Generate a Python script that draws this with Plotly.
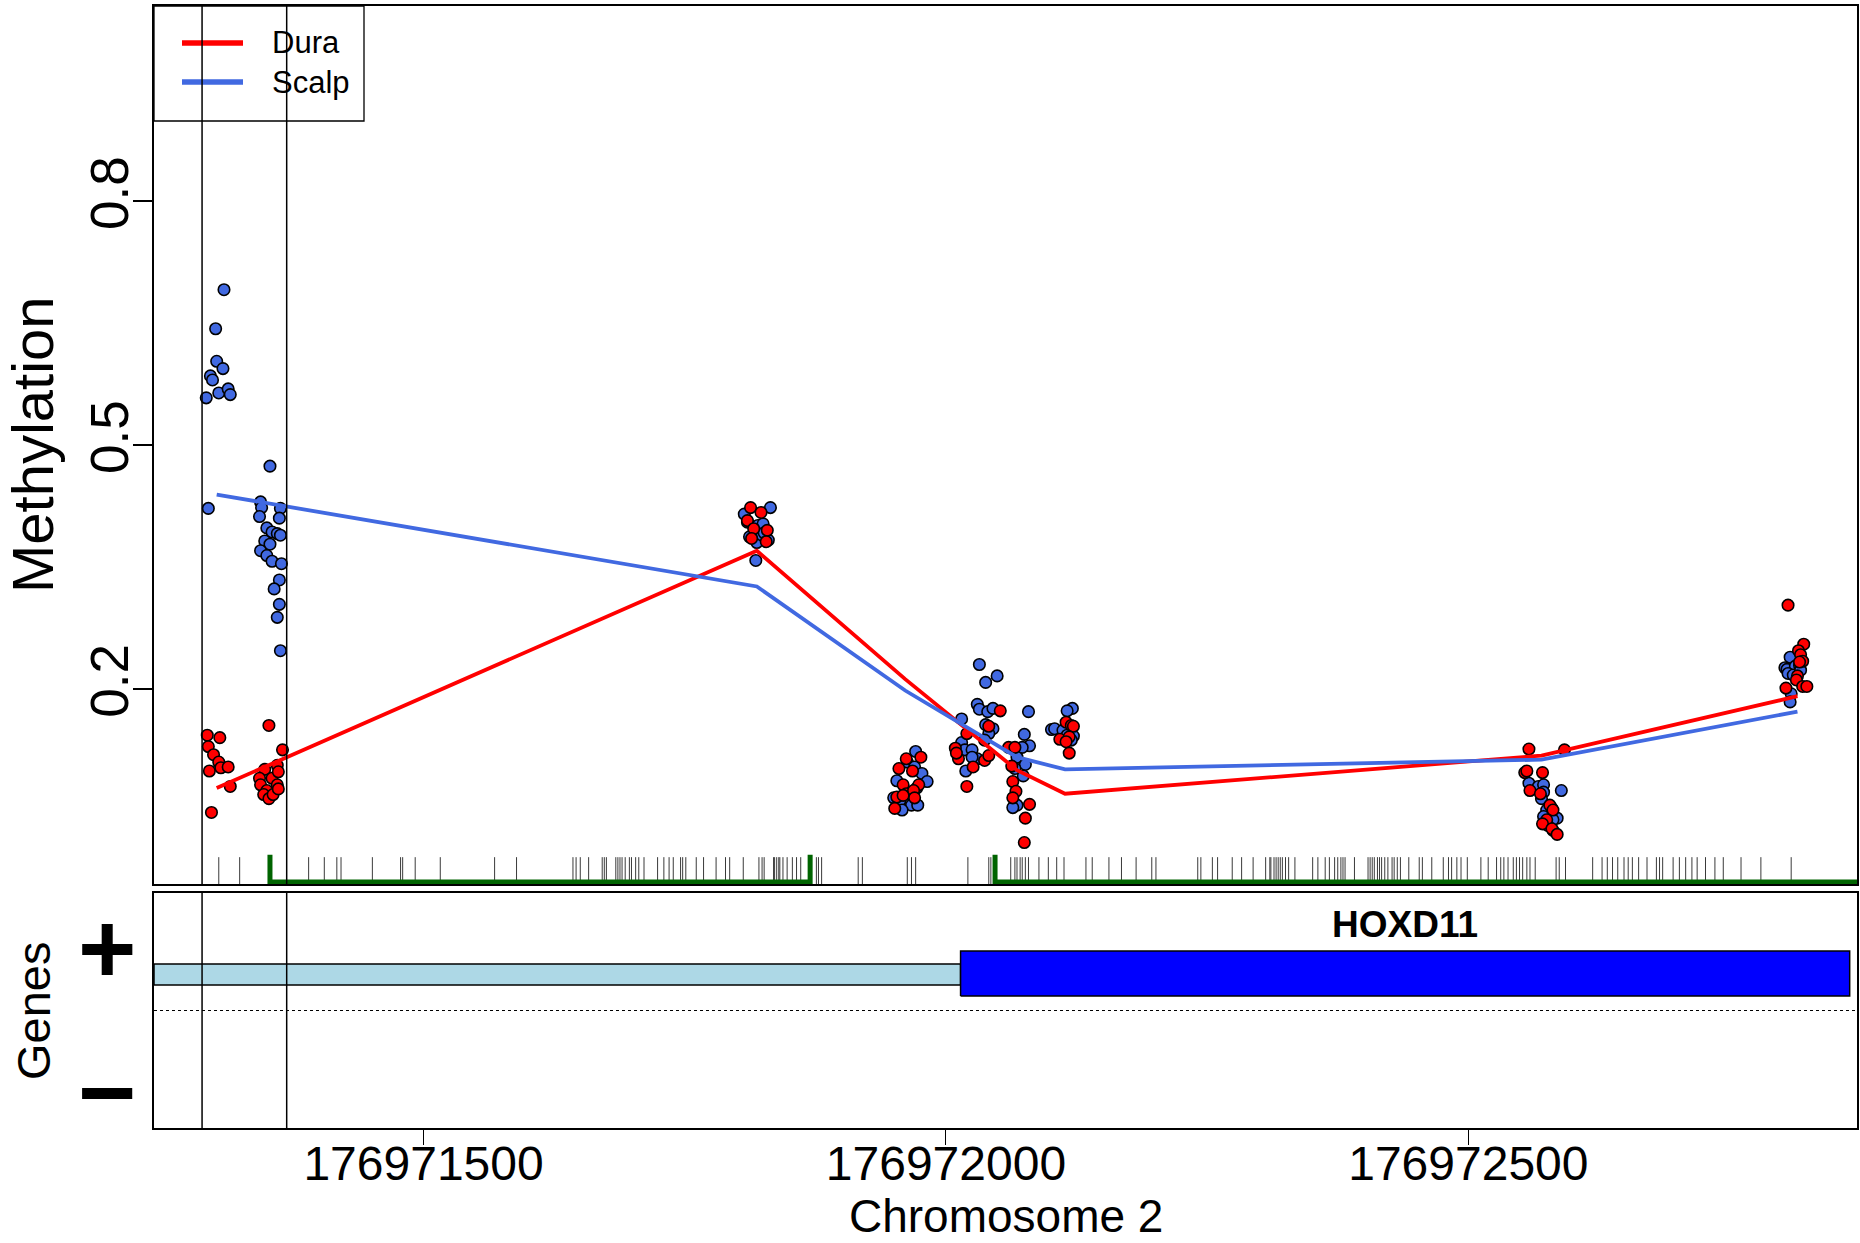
import plotly.graph_objects as go

BASE = 176971000
X_RANGE = [176971242, 176972872]

# ---- methylation points (position offset from BASE, value) ----
scalp_pos = [309, 301, 302, 308, 296, 298, 304, 313, 315, 292, 294,
             353, 344, 345, 363, 343, 362, 350, 355, 360, 363, 348, 353, 344, 350, 355, 364, 362, 357, 362, 360, 363,
             832, 807, 820, 825, 812, 819, 830, 824, 818, 810, 826,
             971, 963, 970, 977, 953, 982, 972, 964, 950, 956, 967, 973, 958,
             1032, 1038, 1049, 1030, 1032, 1040, 1045, 1015, 1041, 1045, 1015, 1018, 1025, 1030, 1025, 1019, 1041, 1037, 1038,
             1079, 1075, 1080, 1073, 1068, 1076, 1066, 1074, 1068, 1064,
             1121, 1116, 1101, 1104, 1112, 1116, 1122, 1120,
             1558, 1567, 1572, 1589, 1572, 1570, 1575, 1580, 1572, 1585, 1581, 1576,
             1808, 1803, 1805, 1813, 1817, 1806, 1811, 1818, 1809, 1808]
scalp_val = [0.691, 0.643, 0.603, 0.594, 0.585, 0.580, 0.564, 0.569, 0.562, 0.558, 0.422,
             0.474, 0.430, 0.423, 0.422, 0.412, 0.410, 0.398, 0.393, 0.391, 0.389, 0.382, 0.378, 0.370, 0.364, 0.357, 0.354, 0.334, 0.323, 0.304, 0.288, 0.247,
             0.423, 0.415, 0.401, 0.403, 0.387, 0.380, 0.383, 0.389, 0.358, 0.405, 0.392,
             0.123, 0.110, 0.104, 0.096, 0.087, 0.086, 0.078, 0.073, 0.066, 0.063, 0.057, 0.057, 0.051,
             0.230, 0.208, 0.216, 0.181, 0.175, 0.172, 0.176, 0.163, 0.153, 0.151, 0.134, 0.125, 0.125, 0.114, 0.116, 0.099, 0.145, 0.137, 0.156,
             0.172, 0.144, 0.130, 0.128, 0.116, 0.107, 0.102, 0.093, 0.057, 0.054,
             0.176, 0.173, 0.150, 0.151, 0.149, 0.143, 0.142, 0.137,
             0.084, 0.080, 0.082, 0.075, 0.073, 0.065, 0.051, 0.053, 0.043, 0.041, 0.039, 0.032,
             0.239, 0.226, 0.224, 0.228, 0.229, 0.219, 0.217, 0.223, 0.194, 0.184]

dura_pos = [293, 305, 294, 299, 304, 306, 313, 295, 315, 297,
            352, 365, 348, 360, 343, 355, 361, 344, 360, 350, 347, 352, 356, 361,
            813, 823, 810, 816, 829, 828, 814,
            962, 976, 955, 968, 959, 974, 962, 969, 953, 970, 951, 959,
            1052, 1041, 1020, 1009, 1012, 1010, 1026, 1037, 1041, 1020,
            1060, 1066, 1063, 1064, 1067, 1064, 1080, 1076, 1075,
            1115, 1120, 1122, 1109, 1118, 1115, 1118,
            1558, 1592, 1554, 1556, 1571, 1559, 1569, 1578, 1581, 1575, 1571, 1581, 1580, 1585,
            1806, 1821, 1816, 1818, 1820, 1817, 1815, 1814, 1804, 1820, 1824]
dura_val = [0.143, 0.140, 0.129, 0.119, 0.110, 0.103, 0.104, 0.099, 0.080, 0.048,
            0.155, 0.125, 0.101, 0.106, 0.090, 0.090, 0.098, 0.082, 0.082, 0.075, 0.070, 0.065, 0.070, 0.077,
            0.423, 0.417, 0.407, 0.397, 0.395, 0.381, 0.385,
            0.114, 0.116, 0.102, 0.099, 0.082, 0.082, 0.071, 0.075, 0.067, 0.066, 0.053, 0.069,
            0.173, 0.154, 0.145, 0.127, 0.114, 0.121, 0.104, 0.112, 0.118, 0.080,
            0.128, 0.128, 0.105, 0.086, 0.074, 0.066, 0.058, 0.041, 0.011,
            0.159, 0.155, 0.154, 0.138, 0.141, 0.135, 0.121,
            0.126, 0.125, 0.097, 0.099, 0.097, 0.075, 0.071, 0.057, 0.051, 0.039, 0.034, 0.026, 0.028, 0.021,
            0.303, 0.255, 0.247, 0.242, 0.234, 0.233, 0.216, 0.211, 0.201, 0.203, 0.203]

# ---- smoothed lines ----
line_pos = [302, 819, 961, 1068, 1114, 1570, 1815]
dura_line = [0.078, 0.370, 0.212, 0.100, 0.071, 0.118, 0.191]
scalp_line = [0.439, 0.326, 0.198, 0.116, 0.101, 0.113, 0.172]

# ---- CpG rug positions ----
cpg_pos = [304, 324, 390, 405, 417, 421, 451, 478, 480, 492, 516, 568, 589, 643, 646, 650, 658, 671, 673, 675,
           684, 686, 688, 690, 693, 697, 699, 703, 706, 711, 724, 730, 735, 739, 746, 748, 751, 761, 768, 780,
           789, 793, 806, 821, 824, 826, 835, 836, 838, 840, 841, 844, 848, 853, 857, 861, 876, 878, 881,
           916, 920, 963, 967, 971, 1021, 1041, 1043, 1062, 1066, 1068, 1071, 1073, 1076, 1079, 1089, 1098,
           1106, 1113, 1134, 1140, 1156, 1168, 1182, 1197, 1201, 1241, 1244, 1255, 1260, 1274, 1283, 1294,
           1306, 1310, 1311, 1314, 1316, 1318, 1320, 1322, 1325, 1328, 1334, 1351, 1356, 1363, 1367, 1372,
           1375, 1378, 1380, 1382, 1391, 1404, 1406, 1408, 1410, 1413, 1415, 1417, 1420, 1423, 1427, 1429,
           1432, 1435, 1443, 1453, 1456, 1465, 1476, 1481, 1484, 1489, 1493, 1499, 1512, 1519, 1527, 1531,
           1534, 1538, 1543, 1546, 1549, 1552, 1556, 1559, 1564, 1584, 1587, 1593, 1619, 1628, 1633, 1638,
           1643, 1649, 1653, 1657, 1663, 1671, 1680, 1683, 1686, 1696, 1702, 1708, 1714, 1719, 1727, 1736,
           1744, 1761, 1780, 1809]

# ---- CpG islands (start, end offsets) ----
island_start = [353, 1047]
island_end = [870, 1950]

# ---- DMR boundaries ----
dmr_bounds = [288, 369]

# ---- gene ----
gene_name = "HOXD11"
gene_start = 1014
gene_end = 1865

x_ticks = [176971500, 176972000, 176972500]

RED = "#FF0000"
BLUE = "#4169E1"
GREEN = "#006400"
FONT = "Liberation Sans, Arial, sans-serif"

W, H = 1860, 1243
ML, MR, MT, MB = 154, 3, 6, 115
PW, PH = W - ML - MR, H - MT - MB
TOP_DOM = [(H - MB - 884) / PH, 1.0]
GEN_DOM = [0.0, (H - MB - 893) / PH]


def px(xp):
    return (xp - ML) / PW


def py(yp):
    return (H - MB - yp) / PH


fig = go.Figure()

# rug
rx, ry = [], []
for p in cpg_pos:
    rx += [BASE + p, BASE + p, None]
    ry += [-0.04, -0.007, None]
fig.add_trace(go.Scatter(x=rx, y=ry, mode="lines", line=dict(color="#3a3a3a", width=1),
                         hoverinfo="skip", showlegend=False, xaxis="x", yaxis="y"))

# CpG islands
for s, e in zip(island_start, island_end):
    fig.add_trace(go.Scatter(x=[BASE + s, BASE + s, BASE + e, BASE + e],
                             y=[-0.004, -0.0375, -0.0375, -0.004], mode="lines",
                             line=dict(color=GREEN, width=5), hoverinfo="skip",
                             showlegend=False, xaxis="x", yaxis="y"))

# points
fig.add_trace(go.Scatter(x=[BASE + p for p in scalp_pos], y=scalp_val, mode="markers",
                         marker=dict(size=11.5, color=BLUE, line=dict(color="black", width=1.6)),
                         showlegend=False, xaxis="x", yaxis="y"))
fig.add_trace(go.Scatter(x=[BASE + p for p in dura_pos], y=dura_val, mode="markers",
                         marker=dict(size=11.5, color=RED, line=dict(color="black", width=1.6)),
                         showlegend=False, xaxis="x", yaxis="y"))

# lines
fig.add_trace(go.Scatter(x=[BASE + p for p in line_pos], y=dura_line, mode="lines",
                         line=dict(color=RED, width=3.8), name="Dura", showlegend=False,
                         xaxis="x", yaxis="y"))
fig.add_trace(go.Scatter(x=[BASE + p for p in line_pos], y=scalp_line, mode="lines",
                         line=dict(color=BLUE, width=3.8), name="Scalp", showlegend=False,
                         xaxis="x", yaxis="y"))

# gene panel
fig.add_trace(go.Scatter(x=[X_RANGE[0], BASE + gene_start, BASE + gene_start, X_RANGE[0], X_RANGE[0]],
                         y=[0.217, 0.217, 0.396, 0.396, 0.217], mode="lines", fill="toself",
                         fillcolor="#ADD8E6", line=dict(color="black", width=1.5),
                         hoverinfo="skip", showlegend=False, xaxis="x2", yaxis="y2"))
fig.add_trace(go.Scatter(x=[BASE + gene_start, BASE + gene_end, BASE + gene_end, BASE + gene_start, BASE + gene_start],
                         y=[0.123, 0.123, 0.506, 0.506, 0.123], mode="lines", fill="toself",
                         fillcolor="#0000FF", line=dict(color="black", width=1.5),
                         hoverinfo="skip", showlegend=False, xaxis="x2", yaxis="y2"))

shapes = []
# dotted strand separator
shapes.append(dict(type="line", xref="paper", yref="y2", x0=0, x1=1, y0=0, y1=0,
                   line=dict(color="black", width=1.2, dash="dot")))
# legend box
shapes.append(dict(type="rect", xref="paper", yref="paper", x0=px(154), x1=px(364), y0=py(121), y1=py(6),
                   line=dict(color="black", width=1.3), fillcolor="white", layer="above"))
for name, col, yl in [("Dura", RED, 43), ("Scalp", BLUE, 82)]:
    shapes.append(dict(type="line", xref="paper", yref="paper", x0=px(182), x1=px(243), y0=py(yl), y1=py(yl),
                       line=dict(color=col, width=5.5), layer="above"))
# DMR boundaries
for b in dmr_bounds:
    for dom in (TOP_DOM, GEN_DOM):
        shapes.append(dict(type="line", xref="x", yref="paper", x0=BASE + b, x1=BASE + b,
                           y0=dom[0], y1=dom[1], line=dict(color="black", width=1.5), layer="above"))


def ann(text, x, y, size, xref="paper", yref="paper", angle=0, xanchor="center"):
    return dict(text=text, x=x, y=y, xref=xref, yref=yref, xanchor=xanchor, yanchor="middle",
                textangle=angle, showarrow=False, font=dict(family=FONT, size=size, color="black"))


annotations = [
    ann("Dura", px(270), py(43), 31, xanchor="left"),
    ann("Scalp", px(270), py(82), 31, xanchor="left"),
    ann("Methylation", px(33), py(445), 58, angle=-90),
    ann("Genes", px(33), py(1011), 47, angle=-90),
    ann("<b>+</b>", px(107), py(948), 100),
    ann("<b>\u2212</b>", px(107), py(1092), 100),
    ann("<b>%s</b>" % gene_name, (BASE + gene_start + BASE + gene_end) / 2, 0.728, 37, xref="x2", yref="y2"),
    ann("Chromosome 2", 0.5, py(1216), 46),
]

axis_common = dict(showline=True, mirror=True, linecolor="black", linewidth=1.5,
                   showgrid=False, zeroline=False, automargin=False)

fig.update_layout(
    width=W, height=H,
    margin=dict(l=ML, r=MR, t=MT, b=MB, autoexpand=False),
    paper_bgcolor="white", plot_bgcolor="white",
    showlegend=False,
    xaxis=dict(domain=[0, 1], anchor="y", range=X_RANGE, showticklabels=False, ticks="", **axis_common),
    yaxis=dict(domain=TOP_DOM, anchor="x", range=[-0.04, 1.04], tickvals=[0.2, 0.5, 0.8],
               ticktext=["0.2", "0.5", "0.8"], tickangle=-90, ticks="outside", ticklen=19,
               tickwidth=1.5, tickcolor="black", ticklabelstandoff=-16,
               tickfont=dict(family=FONT, size=53, color="black"), **axis_common),
    xaxis2=dict(domain=[0, 1], anchor="y2", range=X_RANGE, tickvals=x_ticks,
                ticktext=[str(t) for t in x_ticks], ticks="outside", ticklen=15, tickwidth=1.2,
                tickcolor="black", ticklabelstandoff=-22,
                tickfont=dict(family=FONT, size=48, color="black"), **axis_common),
    yaxis2=dict(domain=GEN_DOM, anchor="x2", range=[-1, 1], showticklabels=False, ticks="", **axis_common),
    shapes=shapes,
    annotations=annotations,
)

fig.write_html("out.html", config={"displayModeBar": False},
               post_script="document.body.style.margin='0';document.body.style.overflow='hidden';")
